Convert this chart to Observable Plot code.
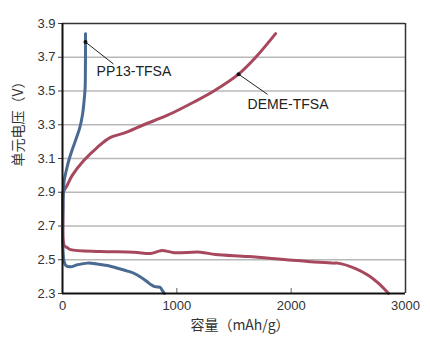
<!DOCTYPE html>
<html><head><meta charset="utf-8">
<script src="https://cdn.jsdelivr.net/npm/d3@7"></script>
<script src="https://cdn.jsdelivr.net/npm/@observablehq/plot@0.6"></script>
<style>
body{margin:0;background:#fff;}
svg{font-family:"Liberation Sans",Arial,"Noto Sans CJK SC",sans-serif;}
</style></head>
<body><div id="chart"></div>
<script>
const xTicks = [0, 1000, 2000, 3000];
const yTicks = [2.3, 2.5, 2.7, 2.9, 3.1, 3.3, 3.5, 3.7, 3.9];
const gridTicks = [2.5, 2.7, 2.9, 3.1, 3.3, 3.5, 3.7];
const xLabel = "容量（mAh/g）";
const yLabel = "单元电压（V）";

const ppChargeCap = [0,3,8,15,30,60,110,150,175,190,198,200,201,201];
const ppChargeV   = [2.6,2.75,2.9,2.97,3.02,3.1,3.2,3.28,3.36,3.45,3.52,3.6,3.7,3.84];
const ppDisCap = [0,5,12,30,70,130,219,330,394,480,569,624,682,741,770,800,831,857,875,892];
const ppDisV   = [2.62,2.55,2.495,2.465,2.458,2.47,2.48,2.472,2.466,2.45,2.433,2.42,2.398,2.37,2.354,2.342,2.339,2.335,2.315,2.30];
const demeChargeCap = [0,3,8,40,85,186,303,420,537,711,914,1150,1324,1540,1690,1864];
const demeChargeV   = [2.62,2.8,2.9,2.94,3.0,3.088,3.165,3.225,3.25,3.3,3.355,3.435,3.5,3.6,3.7,3.84];
const demeDisCap = [0,2,6,15,40,70,332,624,770,830,873,975,1207,1339,1627,2012,2371,2406,2563,2677,2765,2852];
const demeDisV   = [2.9,2.75,2.62,2.585,2.572,2.56,2.549,2.545,2.537,2.548,2.555,2.542,2.545,2.531,2.519,2.497,2.48,2.48,2.448,2.407,2.36,2.30];

const annNames = ["PP13-TFSA", "DEME-TFSA"];
const annPointCap = [201, 1540];
const annPointV = [3.79, 3.6];
const annLineCap = [446, 1793];
const annLineV = [3.66, 3.48];
const annTextCap = [298, 1619];
const annTextV = [3.616, 3.42];

const BLUE = "#4a6a92", RED = "#a8485f";
const toPts = (c, v) => c.map((x, i) => ({x, y: v[i]}));
const ann = annNames.map((n, i) => ({n, px: annPointCap[i], py: annPointV[i], lx: annLineCap[i], ly: annLineV[i], tx: annTextCap[i], ty: annTextV[i]}));

const chart = Plot.plot({
  width: 430, height: 349,
  marginLeft: 62, marginRight: 25, marginTop: 23, marginBottom: 56,
  x: {domain: [0, 3000]},
  y: {domain: [2.3, 3.9]},
  style: {fontSize: "13px", color: "#333"},
  marks: [
    Plot.gridY(gridTicks, {stroke: "#b8b8b8", strokeOpacity: 1, strokeWidth: 1.3}),
    Plot.ruleY([3.9], {stroke: "#333", strokeWidth: 1.5}),
    Plot.ruleX([3000], {stroke: "#333", strokeWidth: 1.5}),
    Plot.line(toPts(demeChargeCap, demeChargeV), {x: "x", y: "y", stroke: RED, strokeWidth: 3, curve: "catmull-rom"}),
    Plot.line(toPts(demeDisCap, demeDisV), {x: "x", y: "y", stroke: RED, strokeWidth: 3, curve: "catmull-rom"}),
    Plot.line(toPts(ppChargeCap, ppChargeV), {x: "x", y: "y", stroke: BLUE, strokeWidth: 3, curve: "catmull-rom"}),
    Plot.line(toPts(ppDisCap, ppDisV), {x: "x", y: "y", stroke: BLUE, strokeWidth: 3, curve: "catmull-rom"}),
    Plot.link(ann, {x1: "px", y1: "py", x2: "lx", y2: "ly", stroke: "#222", strokeWidth: 1}),
    Plot.dot(ann, {x: "px", y: "py", r: 2, fill: "#111"}),
    Plot.text(ann, {x: "tx", y: "ty", text: "n", textAnchor: "start", fontSize: 14, fill: "#222"}),
    Plot.axisY(yTicks, {tickSize: 4, tickPadding: 3, tickFormat: d3.format(".1f"), label: null, stroke: "#444", fontSize: 13}),
    Plot.axisX(xTicks, {tickSize: 0, tickPadding: 7, tickFormat: d3.format("d"), label: null, fontSize: 13}),
    Plot.axisX([1000, 2000], {tickSize: -5, text: null, label: null, stroke: "#666"}),
    Plot.ruleX([0], {stroke: "#111", strokeWidth: 2}),
    Plot.ruleY([2.3], {stroke: "#111", strokeWidth: 2}),
    Plot.text([yLabel], {frameAnchor: "left", dx: -44, dy: 8, rotate: -90, fontSize: 14, fill: "#333", fontFamily: "Noto Sans CJK SC"}),
    Plot.text([xLabel], {frameAnchor: "bottom", dx: 6, dy: 36, fontSize: 14, fill: "#333", fontFamily: "Noto Sans CJK SC"})
  ]
});
document.getElementById("chart").append(chart);
</script></body></html>
